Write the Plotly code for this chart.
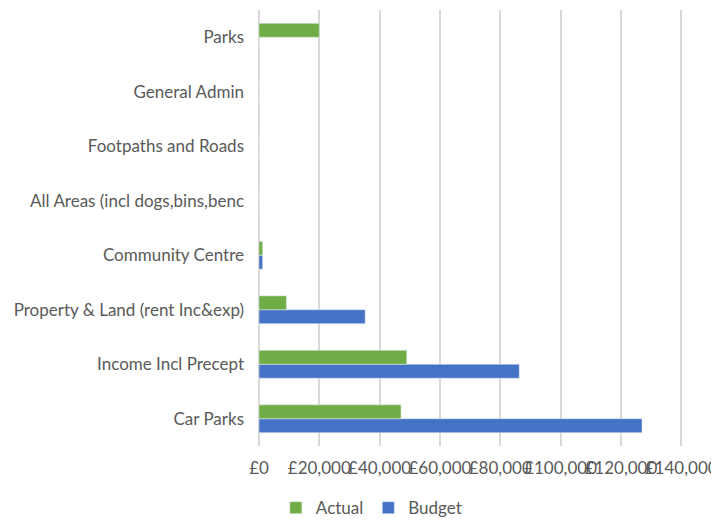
import plotly.graph_objects as go

categories = ["Car Parks", "Income Incl Precept", "Property & Land (rent Inc&exp)",
              "Community Centre", "All Areas (incl dogs,bins,benc", "Footpaths and Roads",
              "General Admin", "Parks"]
actual = [47100, 49000, 9100, 1200, 0, 0, 0, 20000]
budget = [127000, 86300, 35200, 1200, 0, 0, 0, 0]
tick_vals = [0, 20000, 40000, 60000, 80000, 100000, 120000, 140000]
tick_text = ["£0", "£20,000", "£40,000", "£60,000", "£80,000", "£100,000", "£120,000", "£140,000"]

fig = go.Figure()
fig.add_trace(go.Bar(y=categories, x=budget, name="Budget", orientation="h",
                     marker=dict(color="#4472C4"), legendrank=2))
fig.add_trace(go.Bar(y=categories, x=actual, name="Actual", orientation="h",
                     marker=dict(color="#70AD47"), legendrank=1))

font = dict(family="Lato, Open Sans, sans-serif", size=17, color="#595959")
fig.update_layout(
    width=719, height=514,
    margin=dict(l=251, r=44, t=2, b=76, autoexpand=False),
    barmode="group", bargap=0.49, bargroupgap=0,
    plot_bgcolor="white", paper_bgcolor="white",
    font=font,
    showlegend=True,
    legend=dict(orientation="h", xref="paper", yref="container",
                x=0.265, xanchor="center", y=0.027, yanchor="middle",
                font=dict(size=17, color="#595959"), itemwidth=30,
                traceorder="normal"),
    xaxis=dict(range=[0, 140600], tickvals=tick_vals, ticktext=tick_text,
               tickangle=0, automargin=False, ticklabelstandoff=10,
               showgrid=True, gridcolor="#D9D9D9", gridwidth=1.5, zeroline=True,
               zerolinecolor="#D9D9D9", zerolinewidth=1.5, showline=False, ticks="",
               tickfont=font),
    yaxis=dict(categoryorder="array", categoryarray=categories, showgrid=False,
               automargin=False, ticks="", showline=False, tickfont=font,
               ticklabelstandoff=14),
)
fig.write_html("out.html")
